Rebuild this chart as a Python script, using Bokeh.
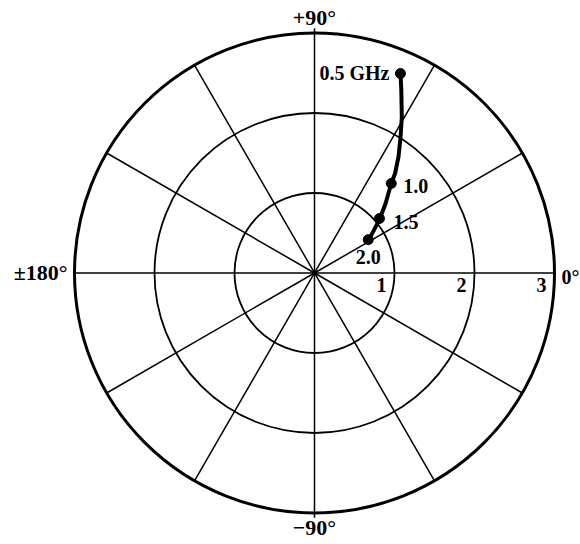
import numpy as np
from bokeh.plotting import figure
from bokeh.models import Range1d
from bokeh.core.properties import value
from bokeh.embed import file_html
from bokeh.resources import INLINE

# ---- data ----
freq_labels = ["0.5 GHz", "1.0", "1.5", "2.0"]
freq_mag = [2.715, 1.474, 1.06, 0.79]
freq_phase = [66.7, 49.4, 40.0, 31.8]

# curve (magnitude, phase in degrees)
trace_mag = [2.712, 2.53, 2.23, 2.01, 1.79, 1.60, 1.47, 1.24, 1.06, 0.91, 0.80]
trace_phase = [66.65, 64.6, 60.7, 57.65, 54.1, 51.0, 49.3, 44.3, 39.7, 35.6, 31.7]

ring_radii = [1, 2, 3]
ring_labels = ["1", "2", "3"]
spoke_angles = [0, 30, 60, 90, 120, 150, 180, 210, 240, 270, 300, 330]
angle_labels = ["0°", "+90°", "±180°", "−90°"]
angle_label_pos = [0, 90, 180, 270]

FONT = "Liberation Serif"

p = figure(width=580, height=544, output_backend="svg", toolbar_location=None,
           x_range=Range1d(-3.925, 3.325), y_range=Range1d(-3.394, 3.406),
           min_border=0, outline_line_color=None)
p.axis.visible = False
p.grid.visible = False
p.background_fill_color = "white"

rmax = max(ring_radii)

# rings
for r in ring_radii:
    p.circle(x=0, y=0, radius=r, fill_color=None, line_color="black",
             line_width=3 if r == rmax else 1.8)

# spokes
ang = np.radians(spoke_angles)
ext = np.array([rmax * 1.02 if a in (90, 270) else rmax for a in spoke_angles])
p.segment(x0=np.zeros(len(ang)), y0=np.zeros(len(ang)),
          x1=ext * np.cos(ang), y1=ext * np.sin(ang),
          line_color="black", line_width=1.5)

# ring labels
p.text(x=ring_radii, y=[0] * len(ring_radii), text=ring_labels,
       x_offset=-8, y_offset=5, text_align="right", text_baseline="top",
       text_font=value(FONT), text_font_size="20px", text_font_style="bold",
       text_color="black")

# angle labels
la = np.radians(angle_label_pos)
lx = rmax * np.cos(la)
ly = rmax * np.sin(la)
common = dict(text_font=value(FONT), text_font_style="bold", text_color="black",
              text_baseline="middle")
p.text(x=[lx[0]], y=[ly[0]], text=[angle_labels[0]], x_offset=7, y_offset=4,
       text_align="left", text_font_size="20px", **common)
p.text(x=[lx[1]], y=[ly[1]], text=[angle_labels[1]], x_offset=0, y_offset=-15,
       text_align="center", text_font_size="22px", **common)
p.text(x=[lx[2]], y=[ly[2]], text=[angle_labels[2]], x_offset=-7, y_offset=0,
       text_align="right", text_font_size="22px", **common)
p.text(x=[lx[3]], y=[ly[3]], text=[angle_labels[3]], x_offset=0, y_offset=15,
       text_align="center", text_font_size="22px", **common)

# trace
tm = np.array(trace_mag)
tp = np.radians(trace_phase)
p.line(x=tm * np.cos(tp), y=tm * np.sin(tp), line_color="black", line_width=4,
       line_join="round", line_cap="round")

fm = np.array(freq_mag)
fp = np.radians(freq_phase)
fx = fm * np.cos(fp)
fy = fm * np.sin(fp)
p.scatter(x=fx, y=fy, size=10, fill_color="black", line_color="black")

# frequency labels
offs = [(-11, 0, "right", "middle"), (12, 3, "left", "middle"),
        (14, 4, "left", "middle"), (0, 17, "center", "middle")]
for i, (xo, yo, al, bl) in enumerate(offs):
    p.text(x=[fx[i]], y=[fy[i]], text=[freq_labels[i]], x_offset=xo, y_offset=yo,
           text_align=al, text_baseline=bl, text_font=value(FONT),
           text_font_size="20px", text_font_style="bold", text_color="black")

open("out.html", "w").write(file_html(p, INLINE))
